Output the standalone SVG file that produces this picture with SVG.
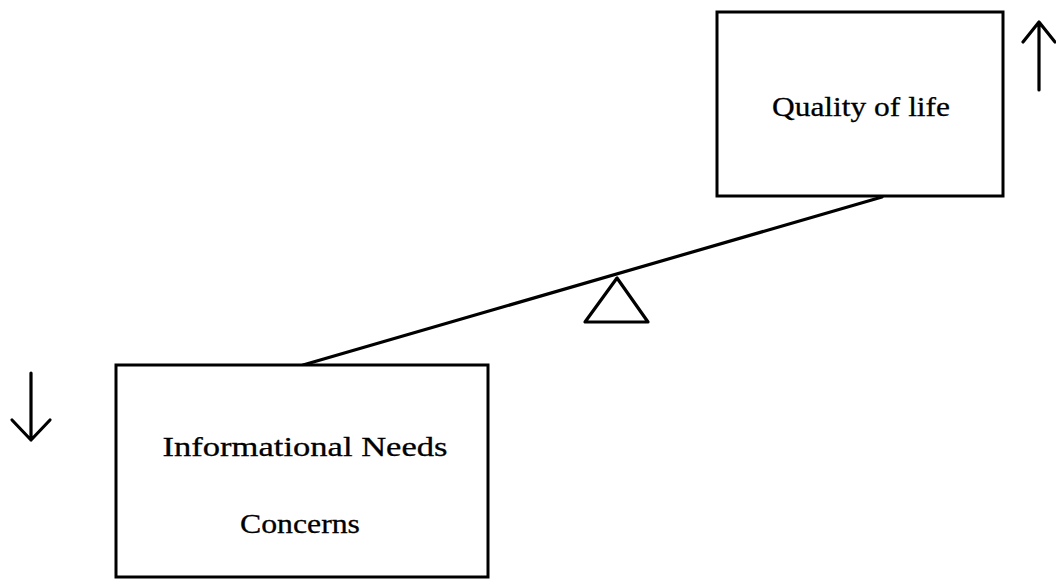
<svg xmlns="http://www.w3.org/2000/svg" width="1056" height="579" viewBox="0 0 1056 579">
<style>
.box{fill:#fff;stroke:#000;stroke-width:3}
.ln{fill:none;stroke:#000;stroke-width:3.2;stroke-linecap:round;stroke-linejoin:round}
.t{font-family:"Liberation Serif","Times New Roman",Times,serif;font-size:28px;fill:#000;stroke:#000;stroke-width:0.3;text-anchor:middle}
</style>
<rect width="1056" height="579" fill="#fff"/>
<g id="connectors">
<line class="ln" x1="303" y1="365" x2="882" y2="197"/>
<polygon class="ln" points="617,278 585,322 648,322"/>
<path class="ln" d="M1039,90 V22 M1023,42 L1039,22 L1055,42"/>
<path class="ln" d="M31,373 V440 M12,420 L31,440 L50,420"/>
</g>
<g id="quality">
<rect class="box" x="717" y="12" width="286" height="184"/>
<text class="t" x="861" y="116" textLength="178" lengthAdjust="spacingAndGlyphs">Quality of life</text>
</g>
<g id="informational">
<rect class="box" x="116" y="365" width="372" height="212"/>
<text class="t" x="305" y="456" textLength="285" lengthAdjust="spacingAndGlyphs">Informational  Needs</text>
<text class="t" x="300" y="533" textLength="120" lengthAdjust="spacingAndGlyphs">Concerns</text>
</g>
</svg>
